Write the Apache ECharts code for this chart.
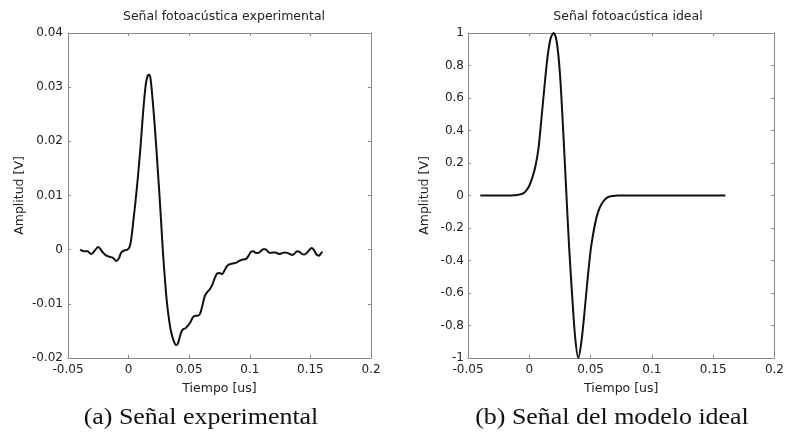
<!DOCTYPE html>
<html>
<head>
<meta charset="utf-8">
<script src="https://cdn.jsdelivr.net/npm/echarts@6/dist/echarts.min.js"></script>
<style>html,body{margin:0;padding:0;background:#fff;}#c{width:787px;height:443px;}</style>
</head>
<body>
<div id="c"></div>
<script>
// ---- data ----
const titles = ['Señal fotoacústica experimental', 'Señal fotoacústica ideal'];
const captions = ['(a) Señal experimental', '(b) Señal del modelo ideal'];
const xName = 'Tiempo [us]';
const yName = 'Amplitud [V]';
const xTicks = [-0.05, 0, 0.05, 0.1, 0.15, 0.2];
const yTicksExp = [-0.02, -0.01, 0, 0.01, 0.02, 0.03, 0.04];
const yTicksIdeal = [-1, -0.8, -0.6, -0.4, -0.2, 0, 0.2, 0.4, 0.6, 0.8, 1];

const expT = [-0.040,-0.037,-0.034,-0.031,-0.028,-0.025,-0.022,-0.019,-0.016,-0.013,-0.010,-0.008,-0.006,-0.003,-0.001,
  0.001,0.0025,0.004,0.0055,0.007,0.0085,0.010,0.0115,0.013,0.0145,0.016,0.017,0.018,0.0195,0.021,0.0225,0.024,0.0255,0.027,0.0285,
  0.030,0.0315,0.033,0.0345,0.036,0.0375,0.039,0.0405,0.042,0.0435,0.045,0.047,0.049,0.051,0.053,0.055,0.057,0.059,0.061,0.063,
  0.065,0.067,0.069,0.071,0.073,0.075,0.077,0.079,0.081,0.083,0.085,0.087,0.089,0.091,0.093,0.095,0.097,0.099,0.101,0.103,0.105,
  0.107,0.109,0.111,0.113,0.115,0.117,0.119,0.121,0.123,0.125,0.127,0.129,0.131,0.133,0.135,0.137,0.139,0.141,0.143,0.145,0.147,
  0.149,0.151,0.153,0.155,0.157,0.159,0.160];
const expV = [0.0000,-0.0003,-0.0003,-0.0008,-0.0002,0.0005,-0.0003,-0.0010,-0.0013,-0.0015,-0.0021,-0.0016,-0.0005,-0.0001,0.0000,
  0.0006,0.0025,0.0055,0.0085,0.0118,0.0155,0.0195,0.0240,0.0280,0.0310,0.0322,0.0323,0.0317,0.0285,0.0245,0.0200,0.0150,0.0100,0.0045,-0.0010,
  -0.0055,-0.0095,-0.0123,-0.0145,-0.0160,-0.0170,-0.0176,-0.0174,-0.0163,-0.0152,-0.0147,-0.0145,-0.0140,-0.0134,-0.0125,-0.0122,-0.0122,-0.0118,-0.0102,-0.0085,
  -0.0078,-0.0073,-0.0065,-0.0053,-0.0044,-0.0043,-0.0045,-0.0039,-0.0031,-0.0027,-0.0026,-0.0025,-0.0024,-0.0021,-0.0019,-0.0018,-0.0017,-0.0011,-0.0004,-0.0003,-0.0006,
  -0.0006,-0.0003,0.0001,0.0001,-0.0004,-0.0006,-0.0005,-0.0005,-0.0007,-0.0008,-0.0006,-0.0005,-0.0006,-0.0008,-0.0010,-0.0007,-0.0003,-0.0004,-0.0008,-0.0009,-0.0006,
  -0.0001,0.0003,-0.0001,-0.0009,-0.0011,-0.0006,-0.0004];

const idealT = [-0.04,-0.035,-0.03,-0.025,-0.02,-0.0175,-0.015,-0.0125,-0.01,-0.0075,-0.005,-0.0025,0,0.0025,0.005,0.0075,0.01,0.0125,0.015,0.0175,
  0.02,0.0225,0.025,0.0275,0.03,0.0325,0.035,0.0375,0.04,0.0425,0.045,0.0475,0.05,0.0525,0.055,0.0575,0.06,0.0625,0.065,0.0675,0.07,0.0725,0.075,
  0.08,0.09,0.1,0.11,0.12,0.13,0.14,0.15,0.16];
const idealV = [0,0,0,0,0,0.0002,0.0005,0.001,0.003,0.007,0.013,0.03,0.06,0.11,0.18,0.29,0.48,0.68,0.86,0.97,
  1.0,0.94,0.75,0.42,0.05,-0.32,-0.62,-0.88,-1.0,-0.9,-0.72,-0.52,-0.34,-0.22,-0.13,-0.075,-0.04,-0.018,-0.008,-0.003,-0.001,0,0,
  0,0,0,0,0,0,0,0,0];

// ---- chart ----
const font = '"DejaVu Sans", Arial, sans-serif';
const axisCol = '#8a8a8a';
const txtCol = '#222';
const fmt = v => String(+(+v).toFixed(4));
const zip = (a, b) => a.map((t, i) => [t, b[i]]);

const grids = [
  {left: 68, top: 33, width: 303, height: 325},
  {left: 468, top: 33, width: 310, height: 325}
];
function xAx(g, pos, show) {
  return {
    type: 'value', gridIndex: g, position: pos,
    min: xTicks[0], max: xTicks[xTicks.length - 1], interval: 0.05,
    name: show ? xName : '', nameLocation: 'middle', nameGap: 24,
    nameTextStyle: {fontFamily: font, fontSize: 12.5, color: txtCol},
    axisLine: {show: true, onZero: false, lineStyle: {color: axisCol, width: 1}},
    axisTick: {show: true, inside: true, length: 3, lineStyle: {color: axisCol}},
    axisLabel: {show: show, margin: 6, fontFamily: font, fontSize: 12, color: txtCol, formatter: fmt, showMinLabel: true, showMaxLabel: true},
    splitLine: {show: false}
  };
}
function yAx(g, pos, show, ticks, gap, margin) {
  return {
    type: 'value', gridIndex: g, position: pos,
    min: ticks[0], max: ticks[ticks.length - 1], interval: +(ticks[1] - ticks[0]).toFixed(4),
    name: show ? yName : '', nameLocation: 'middle', nameGap: gap,
    nameTextStyle: {fontFamily: font, fontSize: 12.5, color: txtCol},
    axisLine: {show: true, onZero: false, lineStyle: {color: axisCol, width: 1}},
    axisTick: {show: true, inside: true, length: 3, lineStyle: {color: axisCol}},
    axisLabel: {show: show, margin: margin, fontFamily: font, fontSize: 12, color: txtCol, formatter: fmt, showMinLabel: true, showMaxLabel: true},
    splitLine: {show: false}
  };
}

const capFont = '24px "Liberation Serif", "Times New Roman", serif';
const chart = echarts.init(document.getElementById('c'), null, {renderer: 'canvas'});
chart.setOption({
  backgroundColor: '#fff',
  animation: false,
  title: [
    {text: titles[0], left: 219, top: 5, textAlign: 'center', textStyle: {fontFamily: font, fontSize: 12.5, fontWeight: 'normal', color: txtCol}},
    {text: titles[1], left: 623, top: 5, textAlign: 'center', textStyle: {fontFamily: font, fontSize: 12.5, fontWeight: 'normal', color: txtCol}}
  ],
  graphic: [
    {type: 'text', x: 201, y: 418, scaleX: 1.08, style: {text: captions[0], font: capFont, fill: '#111', textAlign: 'center', textVerticalAlign: 'middle'}},
    {type: 'text', x: 612, y: 418, scaleX: 1.08, style: {text: captions[1], font: capFont, fill: '#111', textAlign: 'center', textVerticalAlign: 'middle'}}
  ],
  grid: grids,
  xAxis: [xAx(0, 'bottom', true), xAx(0, 'top', false), xAx(1, 'bottom', true), xAx(1, 'top', false)],
  yAxis: [yAx(0, 'left', true, yTicksExp, 42, 5), yAx(0, 'right', false, yTicksExp, 0, 0),
          yAx(1, 'left', true, yTicksIdeal, 37, 4), yAx(1, 'right', false, yTicksIdeal, 0, 0)],
  series: [
    {type: 'line', xAxisIndex: 0, yAxisIndex: 0, data: zip(expT, expV), smooth: 0.35, showSymbol: false, lineStyle: {color: '#111', width: 2}},
    {type: 'line', xAxisIndex: 2, yAxisIndex: 2, data: zip(idealT, idealV), smooth: 0.3, showSymbol: false, lineStyle: {color: '#111', width: 2}}
  ]
});
</script>
</body>
</html>
